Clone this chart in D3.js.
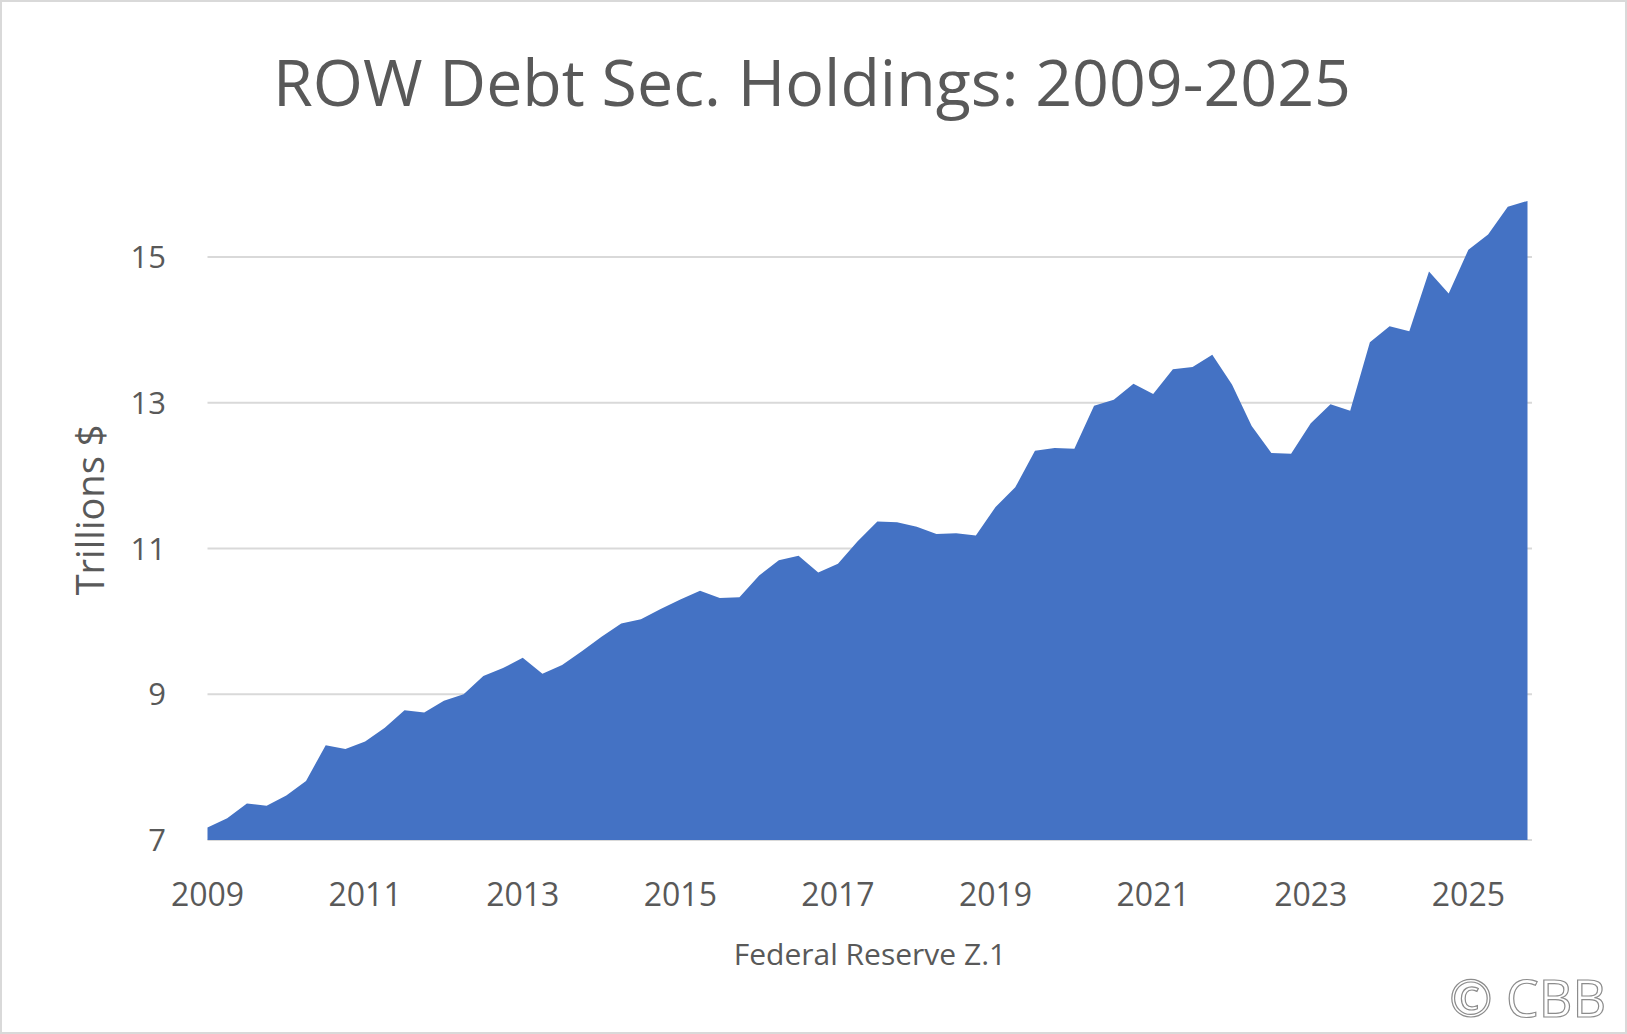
<!DOCTYPE html>
<html lang="en">
<head>
<meta charset="UTF-8">
<title>ROW Debt Sec. Holdings</title>
<script src="https://d3js.org/d3.v7.min.js"></script>
<style>
  body { margin: 0; background: #fff; }
  svg text { font-family: "Open Sans", "Noto Sans", sans-serif; fill: #595959; }
</style>
</head>
<body>
<script>
// quarterly, 2009Q1 onward (trillions $)
const startYear = 2009;
const values = [
  7.17, 7.30, 7.50, 7.47, 7.61, 7.81, 8.30, 8.25,
  8.35, 8.54, 8.78, 8.75, 8.91, 9.00, 9.25, 9.36,
  9.50, 9.28, 9.40, 9.59, 9.79, 9.97, 10.03, 10.17,
  10.30, 10.42, 10.32, 10.33, 10.63, 10.84, 10.90, 10.67,
  10.79, 11.10, 11.37, 11.36, 11.30, 11.20, 11.21, 11.18,
  11.57, 11.84, 12.34, 12.38, 12.37, 12.96, 13.04, 13.26,
  13.12, 13.46, 13.49, 13.66, 13.25, 12.68, 12.31, 12.30,
  12.72, 12.98, 12.89, 13.83, 14.05, 13.98, 14.80, 14.50,
  15.10, 15.31, 15.69, 15.77
];
const yTicks = [7, 9, 11, 13, 15];
const xTickYears = [2009, 2011, 2013, 2015, 2017, 2019, 2021, 2023, 2025];

const W = 1627, H = 1034;
const svg = d3.select('body').append('svg').attr('width', W).attr('height', H);

svg.append('rect').attr('x', 1).attr('y', 1).attr('width', W - 2).attr('height', H - 2)
  .attr('fill', '#fff').attr('stroke', '#d9d9d9').attr('stroke-width', 2);

const x = d3.scaleLinear().domain([0, 67]).range([207.5, 1527.5]);
const y = d3.scaleLinear().domain([7, 15]).range([840, 257]);

// gridlines
svg.append('g').selectAll('line').data(yTicks).join('line')
  .attr('x1', 207.5).attr('x2', 1532)
  .attr('y1', d => y(d)).attr('y2', d => y(d))
  .attr('stroke', '#d9d9d9').attr('stroke-width', 2);

const area = d3.area().x((d, i) => x(i)).y0(y(7)).y1(d => y(d));
svg.append('path').datum(values).attr('d', area).attr('fill', '#4472c4');

// y axis labels
svg.append('g').selectAll('text').data(yTicks).join('text')
  .attr('x', 166).attr('y', d => y(d) + 11)
  .attr('text-anchor', 'end').attr('font-size', 31).text(d => d);

// x axis labels
svg.append('g').selectAll('text').data(xTickYears).join('text')
  .attr('x', d => x((d - startYear) * 4)).attr('y', 906)
  .attr('text-anchor', 'middle').attr('font-size', 32).text(d => d);

svg.append('text').attr('x', 812).attr('y', 106).attr('text-anchor', 'middle')
  .attr('font-size', 64.5).text('ROW Debt Sec. Holdings: 2009-2025');

svg.append('text').attr('x', 870).attr('y', 965).attr('text-anchor', 'middle')
  .attr('font-size', 30).text('Federal Reserve Z.1');

svg.append('text').attr('transform', 'translate(104,510) rotate(-90)')
  .attr('text-anchor', 'middle').attr('font-size', 38).text('Trillions $');

svg.append('text').attr('x', 1606).attr('y', 1017).attr('text-anchor', 'end')
  .attr('font-size', 52).style('fill', '#fff').attr('stroke', '#8c8c8c')
  .attr('stroke-width', 1.2).text('© CBB');
</script>
</body>
</html>
